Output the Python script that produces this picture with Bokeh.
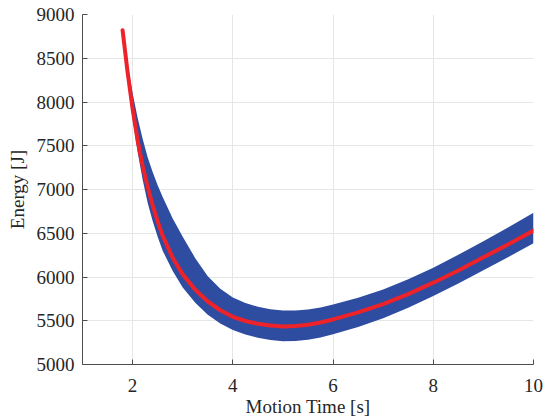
from bokeh.plotting import figure
from bokeh.embed import file_html
from bokeh.resources import INLINE
from bokeh.models import Range1d, FixedTicker

# Motion time [s]
motion_time = [1.8, 1.9, 2.0, 2.1, 2.2, 2.3, 2.4, 2.5, 2.6, 2.8, 3.0, 3.25, 3.5, 3.75,
               4.0, 4.25, 4.5, 4.75, 5.0, 5.25, 5.5, 5.75, 6.0, 6.5, 7.0, 7.5, 8.0, 8.5,
               9.0, 9.5, 10.0]
# Mean energy [J]
energy_mean = [8820, 8340, 7920, 7560, 7270, 7030, 6820, 6635, 6470, 6220, 6030, 5855, 5720, 5620,
               5545, 5497, 5465, 5445, 5435, 5440, 5455, 5480, 5515, 5595, 5690, 5805, 5935, 6075,
               6225, 6375, 6530]
# Upper bound of energy band [J]
energy_upper = [8840, 8440, 8100, 7820, 7580, 7370, 7200, 7050, 6915, 6670, 6460, 6215, 6010, 5865,
                5765, 5703, 5660, 5632, 5618, 5618, 5630, 5652, 5685, 5763, 5858, 5975, 6107, 6253,
                6410, 6570, 6735]
# Lower bound of energy band [J]
energy_lower = [8800, 8270, 7810, 7430, 7115, 6850, 6640, 6460, 6300, 6070, 5880, 5705, 5570, 5470,
                5393, 5342, 5305, 5280, 5265, 5268, 5283, 5310, 5345, 5430, 5530, 5650, 5783, 5925,
                6077, 6229, 6385]

x_ticks = [2, 4, 6, 8, 10]
y_ticks = [5000, 5500, 6000, 6500, 7000, 7500, 8000, 8500, 9000]

FONT = "Liberation Serif"

p = figure(width=549, height=419, output_backend="svg", toolbar_location=None,
           x_range=Range1d(1, 10), y_range=Range1d(5000, 9000),
           min_border_left=82, min_border_right=16, min_border_top=14, min_border_bottom=55)

p.varea(x=motion_time, y1=energy_lower, y2=energy_upper, fill_color="#2E4DA0", fill_alpha=1.0)
p.line(x=motion_time, y=energy_mean, line_color="#EE2229", line_width=4, line_cap="round",
       line_join="round")

p.outline_line_color = None
p.background_fill_color = "white"
p.border_fill_color = "white"

for ax in (p.xaxis[0], p.yaxis[0]):
    ax.axis_line_color = "#4d4d4d"
    ax.major_tick_line_color = "#4d4d4d"
    ax.major_tick_in = 5
    ax.major_tick_out = 0
    ax.minor_tick_line_color = None
    ax.major_label_text_font = FONT
    ax.major_label_text_font_size = "19px"
    ax.major_label_text_color = "#262626"
    ax.axis_label_text_font = FONT
    ax.axis_label_text_font_size = "19px"
    ax.axis_label_text_font_style = "normal"
    ax.axis_label_text_color = "#262626"

p.xaxis.ticker = FixedTicker(ticks=x_ticks)
p.yaxis.ticker = FixedTicker(ticks=y_ticks)
p.xaxis.axis_label = "Motion Time [s]"
p.yaxis.axis_label = "Energy [J]"
p.xaxis.major_label_standoff = 14
p.yaxis.major_label_standoff = 8
p.xaxis.axis_label_standoff = 1
p.yaxis.axis_label_standoff = 6

p.xgrid.ticker = FixedTicker(ticks=x_ticks)
p.ygrid.ticker = FixedTicker(ticks=y_ticks)
p.grid.grid_line_color = "#e6e6e6"
p.grid.grid_line_width = 1

open("out.html", "w").write(file_html(p, INLINE))
